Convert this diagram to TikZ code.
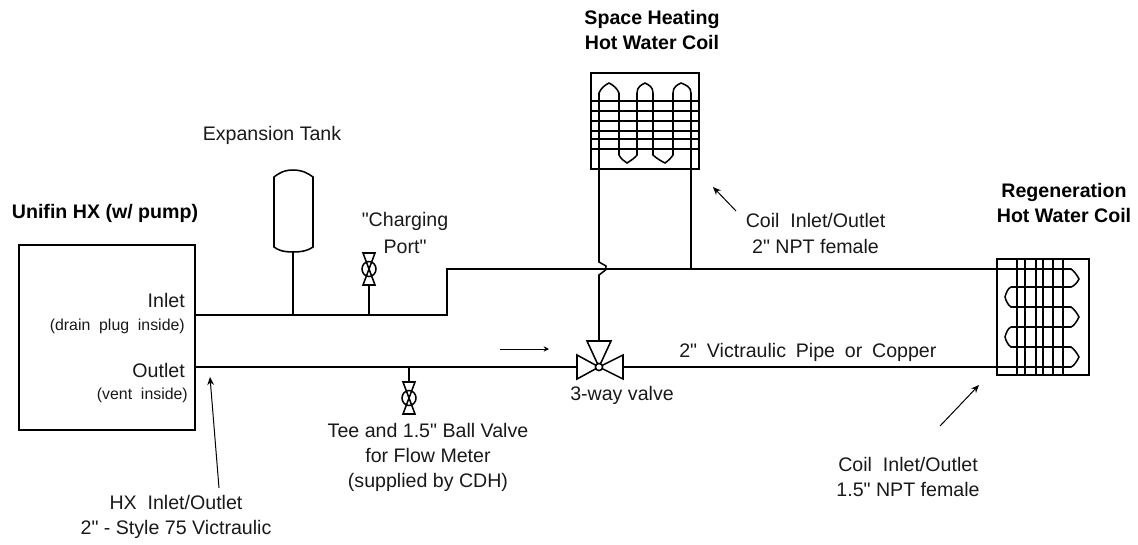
\documentclass[tikz,border=0pt]{standalone}
\usepackage{fontspec}
\setmainfont[Ligatures=TeXOff]{Liberation Sans}
\usetikzlibrary{arrows.meta}
\tikzset{
  px/.style={x=0.75pt,y=-0.75pt},
  pipe/.style={line width=1.15pt,line join=miter},
  leader/.style={line width=0.75pt,-{Stealth[length=6pt,width=5pt]}},
  lbl/.style={font=\fontsize{14.7}{18.75}\selectfont,align=center,inner sep=0pt,text=black!90},
  widelbl/.style={font=\fontsize{14.7}{20}\selectfont,align=center,inner sep=0pt,text=black!90},
  small/.style={font=\fontsize{11.9}{14}\selectfont,align=center,inner sep=0pt,text=black!90},
  head/.style={font=\fontsize{14.7}{18.75}\selectfont\bfseries,align=center,inner sep=0pt},
}
\begin{document}
\begin{tikzpicture}[px]
\useasboundingbox (0,0) rectangle (1138,544);
\coordinate (hxtl) at (19,245); \coordinate (hxbr) at (195,430);
\draw[pipe] (hxtl) rectangle (hxbr);
\coordinate (hxin) at (195,315); \coordinate (hxout) at (195,367);
\coordinate (bend1) at (447,315); \coordinate (bend2) at (447,269);
\coordinate (tanktee) at (293,315); \coordinate (chgtee) at (369,315);
\coordinate (metertee) at (409,367);
\coordinate (cin) at (997,269); \coordinate (cout) at (997,367);
\coordinate (vc) at (599,367);
\coordinate (vl) at (577,367); \coordinate (vr) at (623,367); \coordinate (vt) at (599,341);
\coordinate (coilA) at (599,169); \coordinate (coilB) at (691,169); \coordinate (coilBtee) at (691,269);
\draw[pipe] (hxin) -- (bend1) -- (bend2) -- (cin);
\draw[pipe] (hxout) -- (vl);
\draw[pipe] (vr) -- (cout);
\draw[pipe] (coilB) -- (coilBtee);
\draw[pipe] (vt) -- (599,275) -- (605.5,270) -- (606,266) -- (599,262) -- (coilA);
\draw[pipe,fill=white] (vc) -- (577,355) -- (577,379) -- cycle;
\draw[pipe,fill=white] (vc) -- (623,355) -- (623,379) -- cycle;
\draw[pipe,fill=white] (vc) -- (587,341) -- (611,341) -- cycle;
\draw[pipe,fill=white] (vc) circle[radius=3.6];
\coordinate (tankb) at (293,252);
\draw[pipe] (tanktee) -- (tankb);
\draw[pipe] (293,170) .. controls (283,170) and (278,174) .. (274,177) -- (274,247)
  .. controls (278,250) and (283,252) .. (tankb) .. controls (303,252) and (309,250) .. (313,247)
  -- (313,177) .. controls (309,174) and (303,170) .. (293,170) -- cycle;
\draw[pipe] (chgtee) -- (369,285);
\draw[pipe] (363,253) -- (375,253) -- (363,285) -- (375,285) -- cycle;
\draw[pipe] (369,269) ellipse[x radius=7, y radius=7.5];
\draw[pipe] (metertee) -- (409,382);
\draw[pipe] (403,382) -- (415,382) -- (403,414) -- (415,414) -- cycle;
\draw[pipe] (409,398) ellipse[x radius=7, y radius=7.5];
\draw[pipe] (591,73) rectangle (699,169);
\foreach \y in {101,111,121,131,139,149} \draw[pipe] (591,\y) -- (699,\y);
\draw[pipe] (coilA) -- (599,93) .. controls (601,88) and (605,85) .. (609,83) .. controls (613,85) and (617,88) .. (619,93) -- (619,155) .. controls (621,159) and (624,161) .. (627,163) .. controls (630,161) and (635,158) .. (637,155)
  -- (637,93) .. controls (637,87) and (641,85) .. (645,83) .. controls (649,85) and (653,87) .. (653,93) -- (653,155) .. controls (656,158) and (661,161) .. (665,163) .. controls (668,161) and (671,158) .. (673,155)
  -- (673,93) .. controls (673,87) and (677,85) .. (681,83) .. controls (686,85) and (691,87) .. (691,93) -- (coilB);
\draw[pipe] (997,259) rectangle (1089,375);
\foreach \x in {1017,1025,1036,1043,1053,1063} \draw[pipe] (\x,259) -- (\x,375);
\draw[pipe] (cin) -- (1071,269) .. controls (1074,271) and (1077,275) .. (1079,279) .. controls (1077,283) and (1074,286) .. (1071,287) -- (1011,287) .. controls (1008,288) and (1006,293) .. (1005,297) .. controls (1006,301) and (1008,305) .. (1011,307)
  -- (1071,307) .. controls (1074,309) and (1077,313) .. (1079,317) .. controls (1077,321) and (1074,326) .. (1071,327) -- (1011,327) .. controls (1008,328) and (1006,333) .. (1005,337) .. controls (1006,341) and (1008,345) .. (1011,347)
  -- (1071,347) .. controls (1074,349) and (1077,353) .. (1079,357) .. controls (1077,361) and (1074,366) .. (1071,367) -- (cout);
\node[head] (thx) at (105,213) {Unifin HX (w/ pump)};
\node[lbl,anchor=east] (tin) at (185,300) {Inlet};
\node[small,anchor=east] (tdp) at (185,326) {(drain\ \ plug\ \ inside)};
\node[lbl,anchor=east] (tout) at (185,370) {Outlet};
\node[small,anchor=east] (tvi) at (188,395) {(vent\ \ inside)};
\node[lbl] (texp) at (272,135) {Expansion Tank};
\node[widelbl] (tchg) at (405,233) {"Charging\\Port"};
\node[head] (tsh) at (652,30) {Space Heating\\Hot Water Coil};
\node[head] (trg) at (1064,203) {Regeneration\\Hot Water Coil};
\node[widelbl] (tci) at (815.5,233.5) {Coil\ \ Inlet/Outlet\\2" NPT female};
\node[lbl,anchor=west] (tvp) at (679,352) {\spaceskip=.5em 2" Victraulic Pipe or Copper};
\node[lbl,anchor=west] (t3w) at (570,395) {3-way valve};
\node[lbl] (ttee) at (428,457) {Tee and 1.5" Ball Valve\\for Flow Meter\\(supplied by CDH)};
\node[lbl] (tcr) at (908,477) {Coil\ \ Inlet/Outlet\\1.5" NPT female};
\node[lbl] (thxi) at (176,517) {HX\ \ Inlet/Outlet\\2" - Style 75 Victraulic};
\coordinate (a1s) at (219,488); \coordinate (a1e) at (210,377);
\coordinate (a2s) at (736,211); \coordinate (a2e) at (713,187);
\coordinate (a3s) at (940,426); \coordinate (a3e) at (979,385);
\coordinate (a4s) at (500,349); \coordinate (a4e) at (549,349);
\draw[leader] (a1s) -- (a1e);
\draw[leader] (a2s) -- (a2e);
\draw[leader] (a3s) -- (a3e);
\draw[line width=0.75pt,-{Stealth[length=4pt,width=4pt]}] (a4s) -- (a4e);
\end{tikzpicture}
\end{document}
